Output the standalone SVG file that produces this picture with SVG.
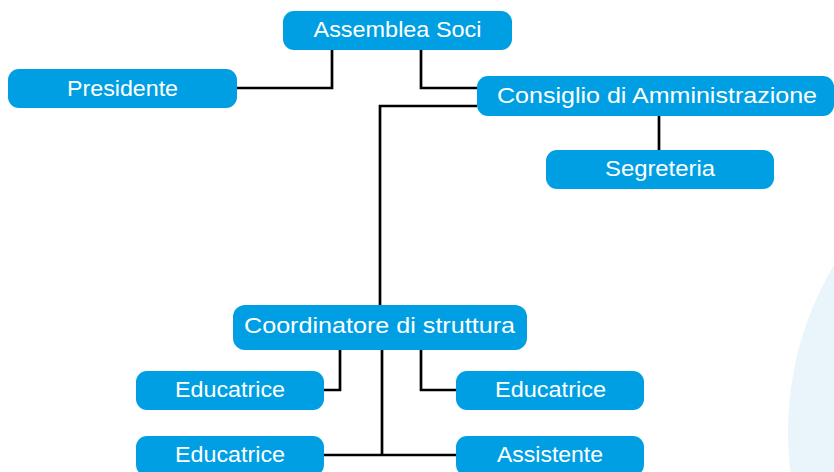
<svg xmlns="http://www.w3.org/2000/svg" width="834" height="472" viewBox="0 0 834 472">
<style>
.box{fill:#009fe3;}
.t{fill:#ffffff;font-family:"Liberation Sans",Arial,sans-serif;font-size:22px;text-anchor:middle;}
.c{fill:none;stroke:#000000;stroke-width:2.7;}
</style>
<rect width="834" height="472" fill="#ffffff"/>
<circle cx="1114" cy="432" r="326" fill="#eaf4fb"/>
<g id="connectors">
<path class="c" d="M237 88 H332 V50"/>
<path class="c" d="M421 50 V88 H477"/>
<path class="c" d="M477 106 H380 V305"/>
<path class="c" d="M659 116 V150"/>
<path class="c" d="M324 390 H340 V350"/>
<path class="c" d="M421 350 V390 H456"/>
<path class="c" d="M382 350 V455"/>
<path class="c" d="M324 455 H456"/>
</g>
<g id="assemblea">
<rect class="box" x="283" y="11" width="229" height="39" rx="11"/>
<text class="t" x="397.5" y="37" textLength="168" lengthAdjust="spacingAndGlyphs">Assemblea Soci</text>
</g>
<g id="presidente">
<rect class="box" x="8" y="69" width="229" height="39" rx="11"/>
<text class="t" x="122.5" y="95.5" textLength="111" lengthAdjust="spacingAndGlyphs">Presidente</text>
</g>
<g id="consiglio">
<rect class="box" x="477" y="76" width="357" height="40" rx="11"/>
<text class="t" x="657" y="102.5" textLength="320" lengthAdjust="spacingAndGlyphs">Consiglio di Amministrazione</text>
</g>
<g id="segreteria">
<rect class="box" x="546" y="150" width="228" height="39" rx="11"/>
<text class="t" x="660" y="176" textLength="110" lengthAdjust="spacingAndGlyphs">Segreteria</text>
</g>
<g id="coordinatore">
<rect class="box" x="233" y="305" width="294" height="45" rx="12"/>
<text class="t" x="379.5" y="333" textLength="271" lengthAdjust="spacingAndGlyphs">Coordinatore di struttura</text>
</g>
<g id="educatrice1">
<rect class="box" x="136" y="371" width="188" height="39" rx="11"/>
<text class="t" x="230" y="397" textLength="110" lengthAdjust="spacingAndGlyphs">Educatrice</text>
</g>
<g id="educatrice2">
<rect class="box" x="456" y="371" width="188" height="39" rx="11"/>
<text class="t" x="550.5" y="397" textLength="111" lengthAdjust="spacingAndGlyphs">Educatrice</text>
</g>
<g id="educatrice3">
<rect class="box" x="136" y="436" width="188" height="40" rx="11"/>
<text class="t" x="230" y="462" textLength="110" lengthAdjust="spacingAndGlyphs">Educatrice</text>
</g>
<g id="assistente">
<rect class="box" x="456" y="436" width="188" height="40" rx="11"/>
<text class="t" x="550" y="462" textLength="106" lengthAdjust="spacingAndGlyphs">Assistente</text>
</g>
</svg>
